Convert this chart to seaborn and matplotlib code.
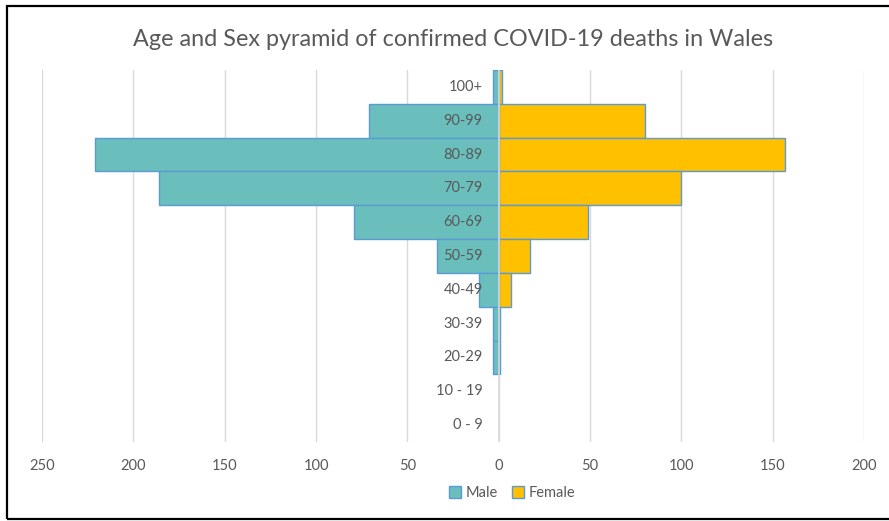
import matplotlib
matplotlib.use("Agg")
import matplotlib.pyplot as plt
import matplotlib.patches as mpatches
from matplotlib.transforms import offset_copy
import seaborn as sns
import pandas as pd

ages = ["100+", "90-99", "80-89", "70-79", "60-69", "50-59", "40-49",
        "30-39", "20-29", "10 - 19", "0 - 9"]
male = [3, 71, 221, 186, 79, 34, 11, 3, 3, 0, 0]
female = [2, 80, 157, 100, 49, 17, 7, 1, 1, 0, 0]
xticks = [-250, -200, -150, -100, -50, 0, 50, 100, 150, 200]
title = "Age and Sex pyramid of confirmed COVID-19 deaths in Wales"

sns.set_theme(style="white")
plt.rcParams["font.family"] = ["Lato", "DejaVu Sans"]

TEXT = "#595959"
MALE_C = "#6ABEBB"
FEMALE_C = "#FFC000"
EDGE = "#5B9BD5"

rows = []
for a, m, f in zip(ages, male, female):
    rows.append({"age": a, "sex": "Male", "value": -m})
    rows.append({"age": a, "sex": "Female", "value": f})
df = pd.DataFrame(rows)
df_plot = df[df["value"] != 0]

fig = plt.figure(figsize=(8.89, 5.21), dpi=100)
ax = fig.add_axes([42 / 889, 1 - 442 / 521, (864 - 42) / 889, (442 - 70) / 521])

sns.barplot(data=df_plot, x="value", y="age", hue="sex", order=ages,
            hue_order=["Male", "Female"],
            palette={"Male": MALE_C, "Female": FEMALE_C},
            dodge=False, width=1.0, edgecolor=EDGE, linewidth=1.0,
            saturation=1.0, orient="h", ax=ax, legend=False)

ax.set_xlim(-250, 200)
ax.set_ylim(len(ages) - 0.5, -0.5)
ax.set_xticks(xticks)
ax.set_xticklabels([str(abs(t)) for t in xticks])
ax.tick_params(axis="x", length=0, pad=12, labelsize=10.5, labelcolor=TEXT)
ax.set_yticks([])
ax.set_xlabel("")
ax.set_ylabel("")
for s in ax.spines.values():
    s.set_visible(False)
ax.set_axisbelow(True)
ax.grid(axis="x", color="#D9D9D9", linewidth=1.0)
ax.grid(axis="y", visible=False)
ax.axvline(0, color="#D9D9D9", linewidth=1.2, zorder=5)

trans = offset_copy(ax.transData, fig=fig, x=-16, y=0, units="dots")
for i, a in enumerate(ages):
    ax.text(0, i, a, transform=trans, ha="right", va="center",
            fontsize=10.5, color=TEXT, zorder=6)

fig.text(453 / 889, 1 - 40 / 521, title, ha="center", va="center",
         fontsize=16.8, color=TEXT)

handles = [mpatches.Patch(facecolor=MALE_C, edgecolor=EDGE, label="Male"),
           mpatches.Patch(facecolor=FEMALE_C, edgecolor=EDGE, label="Female")]
fig.legend(handles=handles, loc="center", bbox_to_anchor=(512 / 889, 1 - 493 / 521),
           ncol=2, frameon=False, fontsize=10.5, labelcolor=TEXT,
           handlelength=0.8, handleheight=0.8, handletextpad=0.3, columnspacing=1.0)

border = mpatches.Rectangle((7 / 889, 2 / 521), 1.0, 1 - 8 / 521,
                            transform=fig.transFigure, fill=False,
                            edgecolor="black", linewidth=1.6, clip_on=False)
fig.patches.append(border)

fig.savefig("out.png", dpi=100)
